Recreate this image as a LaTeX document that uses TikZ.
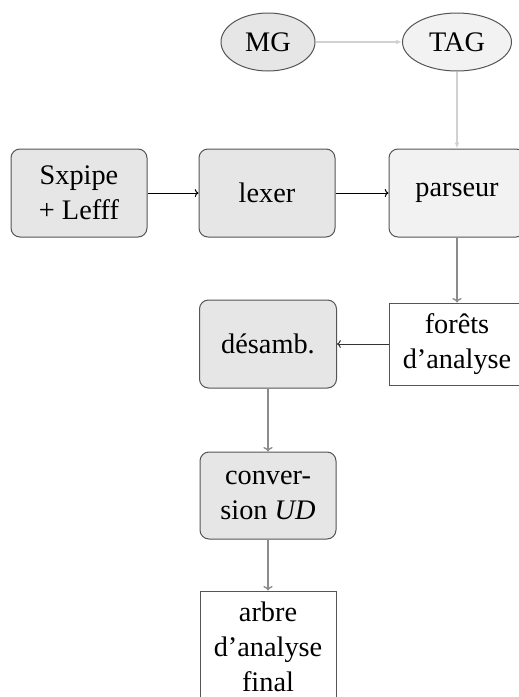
\documentclass[tikz,border=0pt]{standalone}
\usepackage{fontspec}
\setmainfont{Liberation Serif}
\usetikzlibrary{shapes.geometric,arrows.meta}
\definecolor{boxgray}{HTML}{E6E6E6}
\definecolor{boxlight}{HTML}{F2F2F2}
\definecolor{edgegray}{HTML}{555555}
\tikzset{
  base/.style={draw=edgegray, line width=1pt, inner sep=0pt, align=center,
    font=\fontsize{28.3}{35}\selectfont, text=black},
  rbox/.style={base, rectangle, rounded corners=9pt, minimum width=136pt, minimum height=88pt, fill=boxgray},
  rboxlight/.style={rbox, fill=boxlight},
  pbox/.style={base, rectangle, minimum width=136pt, fill=white},
  ell/.style={base, ellipse, minimum height=58pt},
  blackarrow/.style={->, draw=black, line width=1pt},
  grayarrow/.style={->, draw=gray!90, line width=1.3pt},
  darkarrow/.style={->, draw=black!80, line width=1pt},
  lightarrow/.style={-{Latex[length=6pt,width=5pt]}, draw=black!18, line width=1.2pt}
}
\begin{document}
\begin{tikzpicture}[x=1pt,y=-1pt]
\clip (0,0) rectangle (519,697);
\node[ell, fill=boxgray, minimum width=94pt] (mg) at (268,42) {MG};
\node[ell, fill=boxlight, minimum width=109pt] (tag) at (457,42) {TAG};
\node[rbox] (sx) at (79,193) {Sxpipe\\+ Lefff};
\node[rbox] (lex) at (267,193) {lexer};
\node[rboxlight] (par) at (457,193) {parseur};
\node[pbox, minimum height=82pt] (for) at (457,344) {forêts\\d’analyse};
\node[rbox, minimum width=137pt] (des) at (268,344) {désamb.};
\node[rbox, minimum height=87pt] (conv) at (268,495.5) {conver-\\sion \textit{UD}};
\node[pbox, minimum height=112pt] (arb) at (268,647) {arbre\\d’analyse\\final};
\draw[lightarrow] (mg) -- (tag);
\draw[lightarrow] (tag) -- (par);
\draw[blackarrow] (sx) -- (lex);
\draw[blackarrow] (lex) -- (par);
\draw[grayarrow] (par) -- (for);
\draw[darkarrow] (for) -- (des);
\draw[grayarrow] (des) -- (conv);
\draw[grayarrow] (conv) -- (arb);
\end{tikzpicture}
\end{document}
